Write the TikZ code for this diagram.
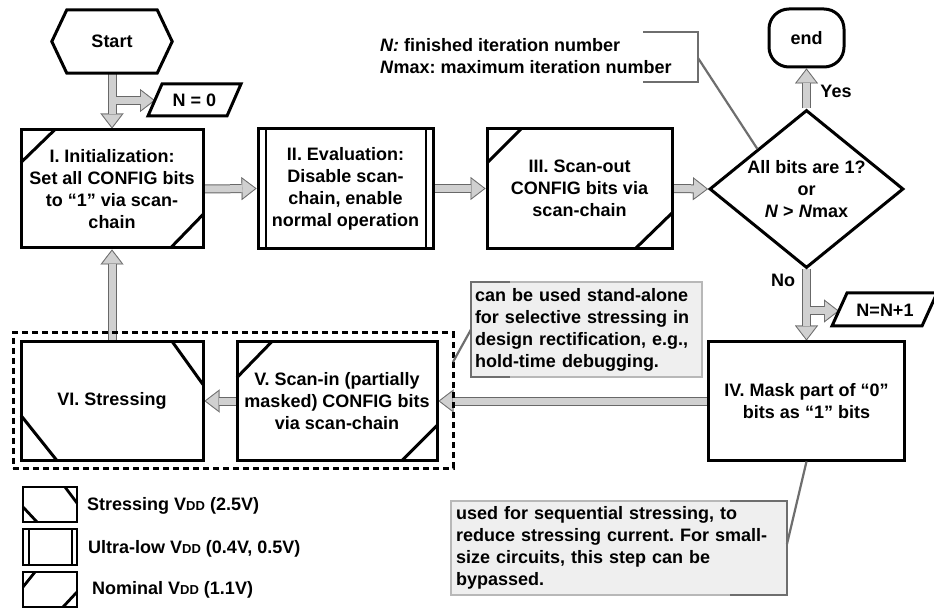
\documentclass[tikz,border=0pt]{standalone}
\usepackage{fontspec}
\setmainfont{Liberation Sans}
\usetikzlibrary{arrows.meta,shapes.geometric,calc}
\pgfdeclarelayer{bg}
\pgfsetlayers{bg,main}
\definecolor{arrfill}{HTML}{D0D0D0}
\definecolor{arrline}{HTML}{686868}
\definecolor{calfill}{HTML}{EFEFEF}
\definecolor{callight}{HTML}{B8B8B8}
\definecolor{caldark}{HTML}{6E6E6E}
\newcommand\vdd{V{\fontsize{13}{13}\selectfont DD}}
\frenchspacing
\tikzset{
  txt/.style={font=\fontsize{18}{22}\selectfont\bfseries, align=center, inner sep=0pt},
  box/.style={txt, draw=black, line width=3pt, rectangle},
  cmark/.style={line width=3pt, black},
  fatout/.style={line width=9pt, draw=arrline, -{Triangle[length=15pt,width=23pt,line width=0.1pt]}},
  fatin/.style={line width=7pt, draw=arrfill, shorten >=1.64pt, -{Triangle[length=12.4pt,width=19pt,line width=0.1pt]}},
  callout/.style={txt, align=left, rectangle, fill=calfill, draw=callight, line width=2.6pt, outer sep=0pt},
  greyline/.style={caldark, line width=2.2pt},
}
\begin{document}
\begin{tikzpicture}[x=1pt,y=-1pt]
\useasboundingbox (0,0) rectangle (934,609);

% Start
\node[txt, minimum width=120pt, minimum height=63pt] (start) at (112,41.5) {Start};
\draw[line width=3pt] (start.west) -- ($(start.north west)+(15,0)$) -- ($(start.north east)+(-15,0)$) -- (start.east) -- ($(start.south east)+(-15,0)$) -- ($(start.south west)+(15,0)$) -- cycle;

% N = 0
\node[txt] (n0) at (194.5,100) {N = 0};
\draw[line width=3pt] (162,84) -- (241,84) -- (227,116) -- (148,116) -- cycle;
\coordinate (n0w) at (155,100.5);
\coordinate (n0b) at (112,100.5);

% Box I
\node[box, minimum width=182pt, minimum height=118pt] (I) at (112,189) {I. Initialization:\\Set all CONFIG bits\\to “1” via scan-\\chain};
\draw[cmark] ($(I.north west)+(1.5,34)$) -- ($(I.north west)+(35,1.5)$);
\draw[cmark] ($(I.south east)+(-34,-1.5)$) -- ($(I.south east)+(-1.5,-35)$);

% Box II
\node[box, minimum width=175pt, minimum height=120pt] (II) at (345.5,188.5) {II. Evaluation:\\Disable scan-\\chain, enable\\normal operation};
\draw[line width=2pt] ($(II.north west)+(9.5,1.5)$) -- ($(II.south west)+(9.5,-1.5)$);
\draw[line width=2pt] ($(II.north east)+(-9,1.5)$) -- ($(II.south east)+(-9,-1.5)$);

% Box III
\node[box, minimum width=185pt, minimum height=120pt] (III) at (579.5,188.5) {III. Scan-out\\CONFIG bits via\\scan-chain};
\draw[cmark] ($(III.north west)+(1.5,36)$) -- ($(III.north west)+(36,1.5)$);
\draw[cmark] ($(III.south east)+(-38,-1.5)$) -- ($(III.south east)+(-1.5,-37)$);

% Decision
\node[diamond, draw=black, line width=3pt, minimum width=194pt, minimum height=158pt, inner sep=0pt] (dec) at (806.5,189) {};
\node[txt] (dect) at (dec) {All bits are 1?\\or\\\textit{N} > \textit{N}max};

% End
\node[box, rounded corners=20pt, minimum width=75pt, minimum height=58pt] (fin) at (806.5,38) {end};
\node[txt] (yes) at (836,91) {Yes};
\node[txt] (no) at (783,280) {No};

% Note
\node[txt, align=left, anchor=west] (note) at (380,56) {\textit{N:} finished iteration number\\\textit{N}max: maximum iteration number};
\coordinate (br) at (698,58);
\draw[greyline] (643,32) -- (698,32) -- (698,82) -- (643,82);
\draw[greyline] (br) -- (dec.north west);

% N=N+1
\node[txt] (nn) at (885,310) {N=N+1};
\draw[line width=3pt] (847,293) -- (937,293) -- (922,326) -- (832,326) -- cycle;
\coordinate (nnw) at (839,311);
\coordinate (nnb) at (806.5,311);

% Box IV
\node[box, minimum width=196pt, minimum height=118pt] (IV) at (806.5,401) {IV. Mask part of “0”\\bits as “1” bits};

% Box V
\node[box, minimum width=200pt, minimum height=118pt] (V) at (337,401) {V. Scan-in (partially\\masked) CONFIG bits\\via scan-chain};
\draw[cmark] ($(V.north west)+(1.5,37)$) -- ($(V.north west)+(36,1.5)$);
\draw[cmark] ($(V.south east)+(-36,-1.5)$) -- ($(V.south east)+(-1.5,-36)$);

% Box VI
\node[box, minimum width=182pt, minimum height=118pt] (VI) at (112,401) {VI. Stressing};
\draw[cmark] ($(VI.north east)+(-32,1.5)$) -- ($(VI.north east)+(-1.5,44)$);
\draw[cmark] ($(VI.south west)+(1.5,-46)$) -- ($(VI.south west)+(37,-1.5)$);

% Dashed group
\node[draw=black, line width=3pt, dash pattern=on 6pt off 4pt, rectangle, minimum width=440pt, minimum height=135pt, inner sep=0pt] (grp) at (233,400.5) {};
\coordinate (p1) at (453,362);

% Callout 1
\node[callout, minimum width=231pt, minimum height=95pt, text width=223pt, inner xsep=4pt, inner ysep=0pt] (c1) at (586.5,329.5) {can be used stand-alone\\for selective stressing in\\design rectification, e.g.,\\hold-time debugging.};
\draw[caldark, line width=2.6pt] ($(c1.north west)+(39,0)$) -- (c1.north west) -- (c1.south west) -- ($(c1.south west)+(39,0)$);
\draw[greyline] (c1.west) -- (p1);

% Callout 2
\node[callout, minimum width=336pt, minimum height=94pt, text width=326pt, inner xsep=5pt, inner ysep=0pt] (c2) at (619,548) {used for sequential stressing, to\\reduce stressing current. For small-\\size circuits, this step can be\\bypassed.};
\draw[caldark, line width=2.6pt] ($(c2.north east)+(-57,0)$) -- (c2.north east) -- (c2.south east) -- ($(c2.south east)+(-57,0)$);
\coordinate (c2p) at (787,544);
\draw[greyline] (c2p) -- (IV.south);

% Legend
\draw[line width=2.8pt] (23,487) rectangle (77,522);
\draw[line width=2.8pt] (65,487) -- (77,503);
\draw[line width=2.8pt] (23,507) -- (37,522);
\draw[line width=2.8pt] (23,529) rectangle (77,565);
\draw[line width=2pt] (28.5,529) -- (28.5,565);
\draw[line width=2pt] (71.5,529) -- (71.5,565);
\draw[line width=2.8pt] (23,572) rectangle (77,607);
\draw[line width=2.8pt] (23,587) -- (35,572);
\draw[line width=2.8pt] (63,607) -- (77,592);
\node[txt, anchor=west] (lg1) at (87,506) {Stressing \vdd{} (2.5V)};
\node[txt, anchor=west] (lg2) at (88,549) {Ultra-low \vdd{} (0.4V, 0.5V)};
\node[txt, anchor=west] (lg3) at (92,590) {Nominal \vdd{} (1.1V)};

% Fat arrows
\begin{pgfonlayer}{bg}
\foreach \a/\b in {start.south/I.north, n0b/n0w, I.east/II.west, II.east/III.west, III.east/dec.west, dec.north/fin.south, dec.south/IV.north, nnb/nnw, IV.west/V.east, V.west/VI.east, VI.north/I.south}
  \draw[fatout] (\a) -- (\b);
\foreach \a/\b in {start.south/I.north, n0b/n0w, I.east/II.west, II.east/III.west, III.east/dec.west, dec.north/fin.south, dec.south/IV.north, nnb/nnw, IV.west/V.east, V.west/VI.east, VI.north/I.south}
  \draw[fatin] (\a) -- (\b);
\end{pgfonlayer}
\end{tikzpicture}
\end{document}
